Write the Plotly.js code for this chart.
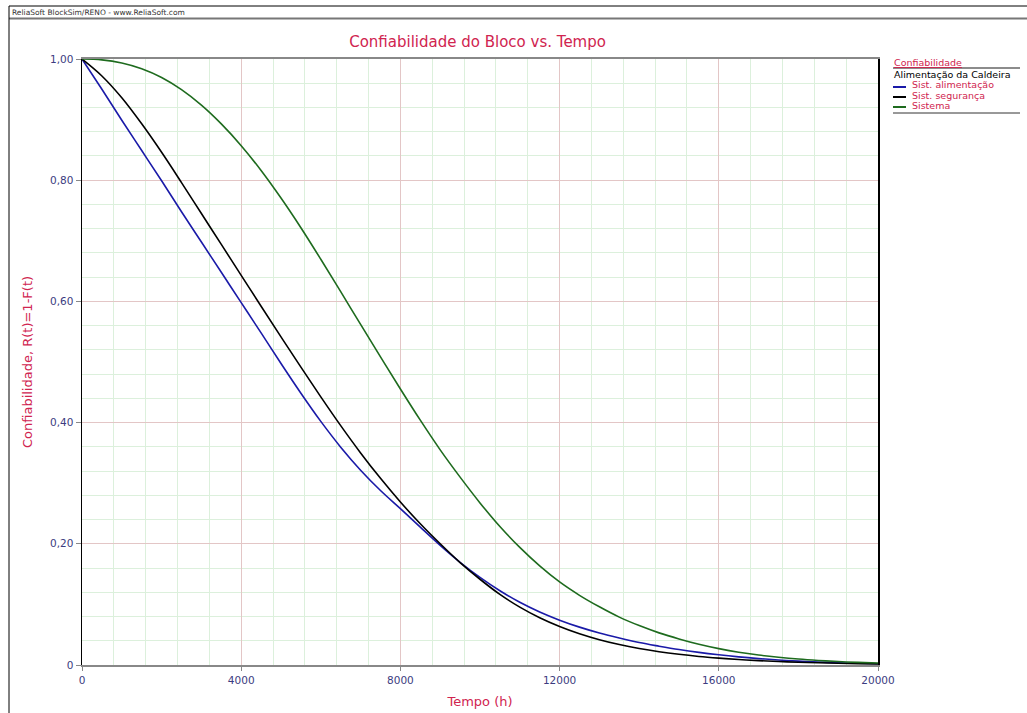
<!DOCTYPE html>
<html>
<head>
<meta charset="utf-8">
<script src="https://cdn.plot.ly/plotly-3.0.1.min.js"></script>
<style>html,body{margin:0;padding:0;background:#fff;}#chart{width:1027px;height:713px;}</style>
</head>
<body>
<div id="chart"></div>
<script>
// Time (h), every 500 h
var tempo = [0, 500, 1000, 1500, 2000, 2500, 3000, 3500, 4000, 4500, 5000, 5500, 6000, 6500, 7000, 7500, 8000, 8500, 9000, 9500, 10000,
             10500, 11000, 11500, 12000, 12500, 13000, 13500, 14000, 14500, 15000, 15500, 16000, 16500, 17000, 17500, 18000, 18500, 19000, 19500, 20000];
// Sist. alimentação (blue)
var sistAlimentacao = [1.000, 0.950, 0.899, 0.849, 0.799, 0.748, 0.698, 0.648, 0.598, 0.548, 0.4975, 0.4485, 0.402, 0.3595, 0.3215, 0.288, 0.258, 0.2275, 0.1975, 0.1695, 0.1445,
                       0.1225, 0.1035, 0.0875, 0.074, 0.0625, 0.0528, 0.0445, 0.037, 0.031, 0.0255, 0.0208, 0.0168, 0.0134, 0.0106, 0.0083, 0.0064, 0.0049, 0.0037, 0.0028, 0.0021];
// Sist. segurança (black)
var sistSeguranca = [1.000, 0.972, 0.936, 0.893, 0.846, 0.796, 0.745, 0.694, 0.643, 0.592, 0.5415, 0.4915, 0.4425, 0.395, 0.350, 0.308, 0.269, 0.233, 0.200, 0.169, 0.1415,
                     0.1165, 0.0955, 0.078, 0.0635, 0.0515, 0.0417, 0.0337, 0.0272, 0.0219, 0.0176, 0.0141, 0.0113, 0.009, 0.0072, 0.0057, 0.0045, 0.0036, 0.0029, 0.0023, 0.0018];
// Sistema (green)
var sistema = [1.000, 0.9986, 0.9934, 0.9839, 0.9694, 0.9494, 0.9239, 0.8929, 0.857, 0.816, 0.7705, 0.7215, 0.6695, 0.616, 0.562, 0.5085, 0.4555, 0.404, 0.355, 0.310, 0.2675,
               0.2285, 0.194, 0.1635, 0.137, 0.115, 0.096, 0.079, 0.065, 0.053, 0.043, 0.0342, 0.027, 0.021, 0.0164, 0.0128, 0.0098, 0.0075, 0.0057, 0.0043, 0.0033];

var yTickVals = [0, 0.2, 0.4, 0.6, 0.8, 1.0];
var yTickText = ['0', '0,20', '0,40', '0,60', '0,80', '1,00'];
var xTickVals = [0, 4000, 8000, 12000, 16000, 20000];
var xTickText = ['0', '4000', '8000', '12000', '16000', '20000'];

var legendNames = ['Sist. alimentação', 'Sist. segurança', 'Sistema'];
var seriesColors = ['#1a1aa8', '#000000', '#1e6b1e'];
var seriesValues = [sistAlimentacao, sistSeguranca, sistema];

var crimson = '#d0244f';
var tickBlue = '#3c3c80';

var traces = seriesValues.map(function (vals, i) {
  return {
    x: tempo, y: vals, type: 'scatter', mode: 'lines', name: legendNames[i],
    line: {color: seriesColors[i], width: 1.6, shape: 'spline', smoothing: 1},
    showlegend: false, hoverinfo: 'x+y+name'
  };
});

// plot area in pixels
var L = 82, R = 878, T = 59, B = 665;
function px(x) { return (x - L) / (R - L); }
function py(y) { return (B - y) / (B - T); }

var shapes = [
  // outer frame
  {type: 'line', xref: 'paper', yref: 'paper', x0: px(9), x1: px(1030), y0: py(6), y1: py(6), line: {color: '#000', width: 1}},
  {type: 'line', xref: 'paper', yref: 'paper', x0: px(9), x1: px(1030), y0: py(18.5), y1: py(18.5), line: {color: '#777', width: 2}},
  {type: 'line', xref: 'paper', yref: 'paper', x0: px(9), x1: px(9), y0: py(6), y1: py(720), line: {color: '#000', width: 1}},
  // legend lines
  {type: 'line', xref: 'paper', yref: 'paper', x0: px(893), x1: px(1020), y0: py(68), y1: py(68), line: {color: '#666', width: 1.5}},
  {type: 'line', xref: 'paper', yref: 'paper', x0: px(893), x1: px(1020), y0: py(113), y1: py(113), line: {color: '#333', width: 1}}
];
var annotations = [
  {xref: 'paper', yref: 'paper', x: px(10), y: py(12.5), xanchor: 'left', yanchor: 'middle', showarrow: false,
   text: 'ReliaSoft BlockSim/RENO - www.ReliaSoft.com', font: {family: 'DejaVu Sans, sans-serif', size: 7.5, color: '#333'}},
  {xref: 'paper', yref: 'paper', x: px(892), y: py(62), xanchor: 'left', yanchor: 'middle', showarrow: false,
   text: '<u>Confiabilidade</u>', font: {family: 'DejaVu Sans, sans-serif', size: 9.5, color: crimson}},
  {xref: 'paper', yref: 'paper', x: px(892), y: py(75), xanchor: 'left', yanchor: 'middle', showarrow: false,
   text: 'Alimentação da Caldeira', font: {family: 'DejaVu Sans, sans-serif', size: 9.5, color: '#000'}}
];
var legendY = [85, 95, 105];
legendNames.forEach(function (n, i) {
  shapes.push({type: 'line', xref: 'paper', yref: 'paper', x0: px(893), x1: px(906), y0: py(legendY[i] + 2), y1: py(legendY[i] + 2),
    line: {color: seriesColors[i], width: 2}});
  annotations.push({xref: 'paper', yref: 'paper', x: px(910), y: py(legendY[i]), xanchor: 'left', yanchor: 'middle', showarrow: false,
    text: n, font: {family: 'DejaVu Sans, sans-serif', size: 9.5, color: crimson}});
});

var layout = {
  width: 1027, height: 713,
  margin: {l: L, r: 1027 - R, t: T, b: 713 - B, pad: 0},
  paper_bgcolor: '#fff', plot_bgcolor: '#fff',
  title: {text: 'Confiabilidade do Bloco vs. Tempo', x: 0.465, xanchor: 'center', y: 1 - 42 / 713, yanchor: 'middle',
          font: {family: 'DejaVu Sans, sans-serif', size: 15, color: crimson}},
  font: {family: 'DejaVu Sans, sans-serif'},
  xaxis: {
    range: [0, 20000], tickmode: 'array', tickvals: xTickVals, ticktext: xTickText,
    showline: true, linecolor: '#888', linewidth: 2, mirror: true,
    ticks: 'outside', ticklen: 4, tickcolor: '#888', tickwidth: 1,
    showgrid: true, gridcolor: '#e3c6c6', gridwidth: 1, zeroline: false,
    minor: {dtick: 800, showgrid: true, gridcolor: '#dcf0dc', gridwidth: 1, ticks: ''},
    tickfont: {family: 'DejaVu Sans, sans-serif', size: 10.5, color: tickBlue},
    title: {text: 'Tempo (h)', font: {family: 'DejaVu Sans, sans-serif', size: 13, color: crimson}, standoff: 12}
  },
  yaxis: {
    range: [0, 1], tickmode: 'array', tickvals: yTickVals, ticktext: yTickText,
    showline: true, linecolor: '#000', linewidth: 1.5, mirror: true,
    ticks: 'outside', ticklen: 5, tickcolor: '#888', tickwidth: 1,
    showgrid: true, gridcolor: '#e3c6c6', gridwidth: 1, zeroline: false,
    minor: {dtick: 0.04, showgrid: true, gridcolor: '#dcf0dc', gridwidth: 1, ticks: ''},
    tickfont: {family: 'DejaVu Sans, sans-serif', size: 10.5, color: tickBlue},
    title: {text: 'Confiabilidade, R(t)=1-F(t)', font: {family: 'DejaVu Sans, sans-serif', size: 13, color: crimson}, standoff: 14}
  },
  shapes: shapes,
  annotations: annotations,
  showlegend: false
};

Plotly.newPlot('chart', traces, layout, {displayModeBar: false, staticPlot: true});
</script>
</body>
</html>
